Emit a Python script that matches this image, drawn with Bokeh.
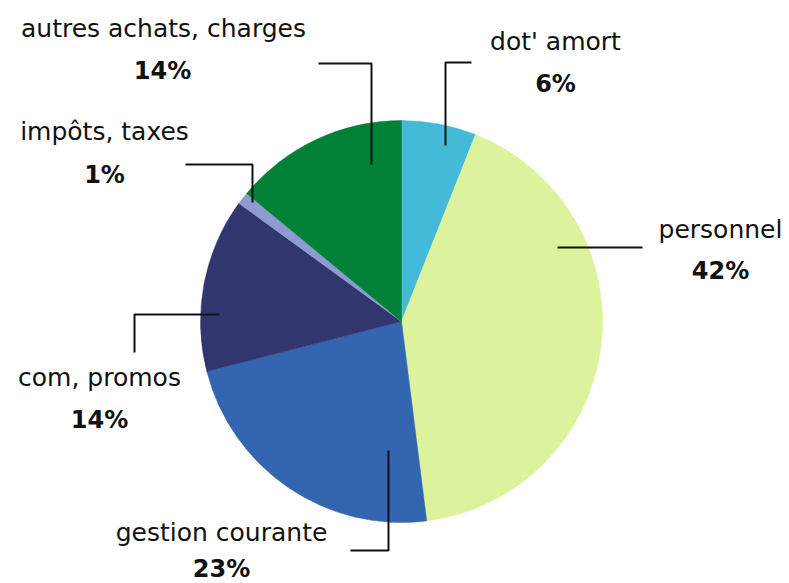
import math
from bokeh.plotting import figure
from bokeh.models import Range1d, ColumnDataSource
from bokeh.core.properties import value
from bokeh.embed import file_html
from bokeh.resources import INLINE

# ---- data ----
categories = ["dot' amort", "personnel", "gestion courante", "com, promos", "impôts, taxes", "autres achats, charges"]
shares = [6, 42, 23, 14, 1, 14]
pct_labels = [f"{v}%" for v in shares]
colors = ["#44B9D8", "#DCF29D", "#3465B0", "#32366E", "#8E9BD0", "#018037"]

# ---- layout (reference pixel coordinates) ----
CX, CY, R = 401, 321, 201
TEXT_SHIFT = 8
label_pos = [(555, 49), (720, 237), (221, 540), (99, 385), (104, 139), (163, 36)]
pct_pos = [(555, 91), (720, 278), (221, 576), (99, 427), (104, 182), (162, 78)]
leaders = [
    [(445, 145), (445, 62), (471, 62)],
    [(557, 247), (642, 247)],
    [(388, 450), (388, 550), (350, 550)],
    [(219, 314), (134, 314), (134, 352)],
    [(252, 202), (252, 164), (185, 164)],
    [(371, 164), (371, 63), (318, 63)],
]

W, H = 789, 583
OX, OY = 0, 0
p = figure(width=W, height=H, x_range=Range1d(OX, OX + W), y_range=Range1d(-(OY + H), -OY),
           output_backend="svg", toolbar_location=None, min_border=0)
p.axis.visible = False
p.grid.visible = False
p.outline_line_color = None
p.background_fill_color = "white"
p.border_fill_color = "white"

total = sum(shares)
starts, ends = [], []
cum = 0.0
for v in shares:
    c0 = cum / total
    cum += v
    c1 = cum / total
    starts.append(math.pi / 2 - 2 * math.pi * c1)
    ends.append(math.pi / 2 - 2 * math.pi * c0)

src = ColumnDataSource(dict(start=starts, end=ends, color=colors, cat=categories))
p.wedge(x=CX, y=-CY, radius=R, start_angle="start", end_angle="end", direction="anticlock",
        fill_color="color", line_color="color", line_width=0.5, source=src)

p.multi_line(xs=[[pt[0] for pt in l] for l in leaders], ys=[[-pt[1] for pt in l] for l in leaders],
             line_color="#111111", line_width=2)

p.text(x=[q[0] for q in label_pos], y=[-(q[1] - TEXT_SHIFT) for q in label_pos], text=categories,
       text_font=value("DejaVu Sans"), text_font_size="25px", text_color="#111111",
       text_align="center", text_baseline="alphabetic")
p.text(x=[q[0] for q in pct_pos], y=[-(q[1] - TEXT_SHIFT) for q in pct_pos], text=pct_labels,
       text_font=value("DejaVu Sans"), text_font_size="24px", text_font_style="bold",
       text_color="#111111", text_align="center", text_baseline="alphabetic")

open("out.html", "w").write(file_html(p, INLINE))
